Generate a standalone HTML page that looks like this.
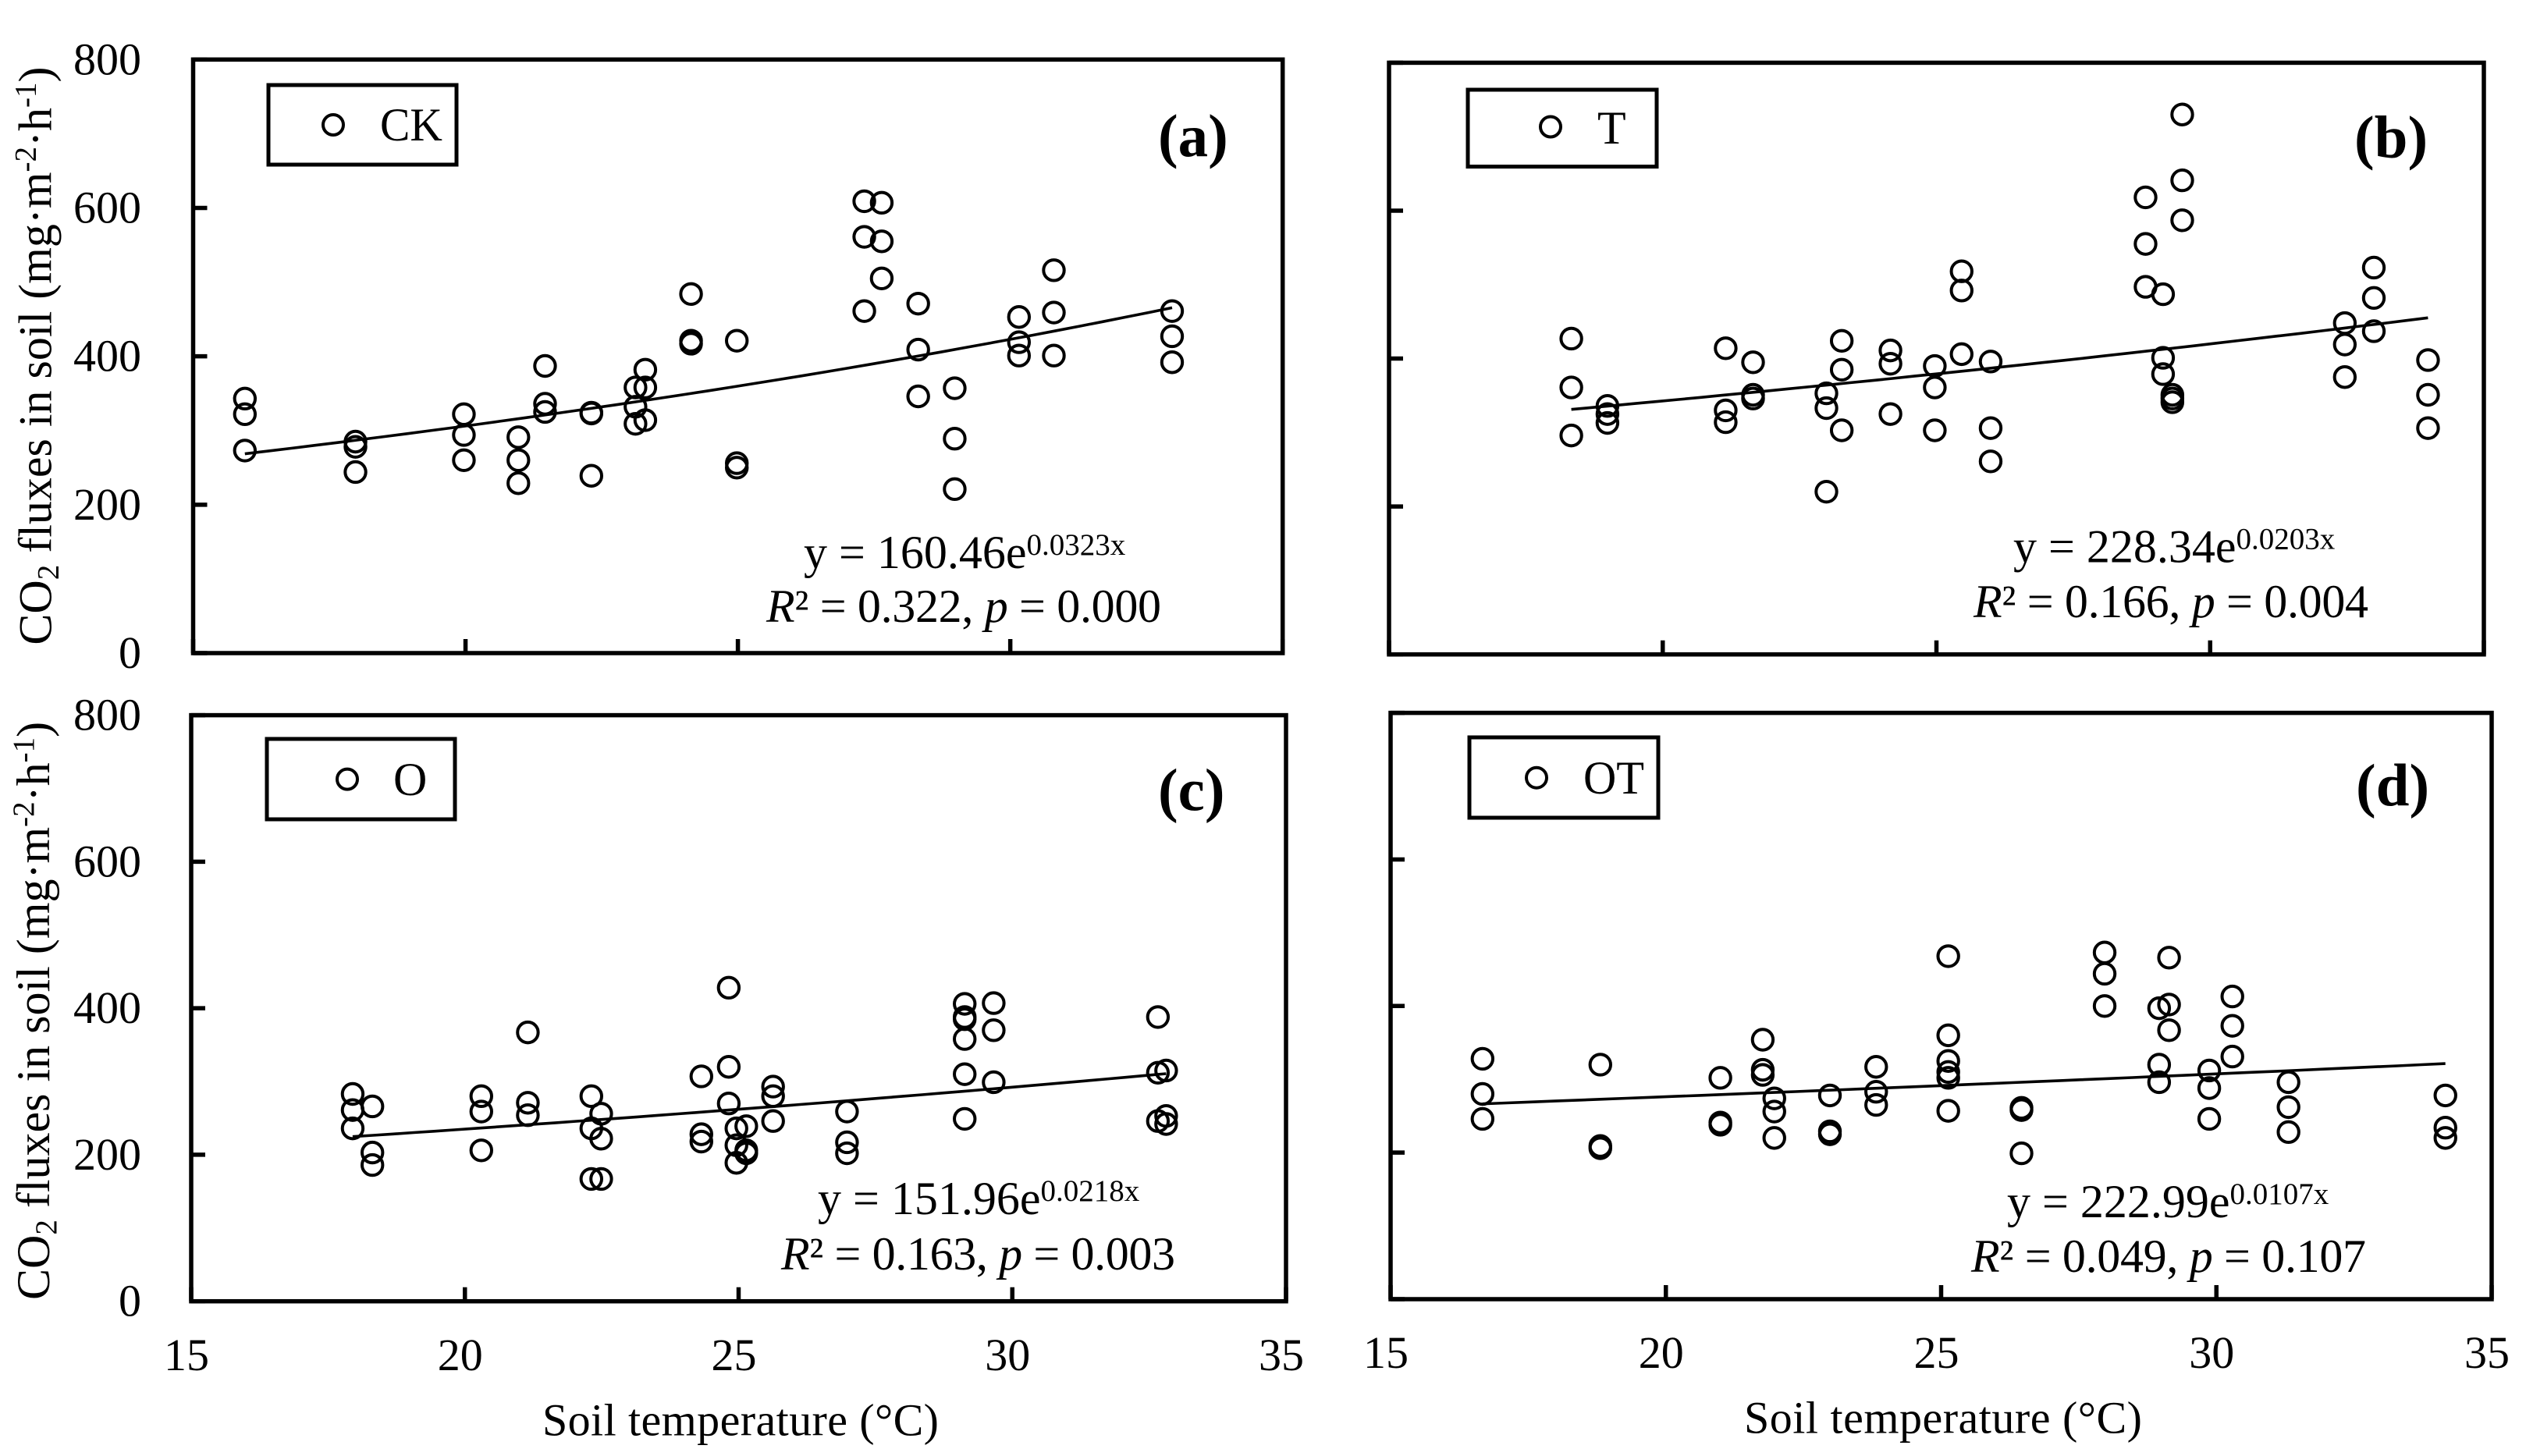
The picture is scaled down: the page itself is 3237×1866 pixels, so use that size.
<!DOCTYPE html>
<html lang="en">
<head>
<meta charset="utf-8">
<title>Soil CO2 flux versus soil temperature</title>
<style>
html,body{margin:0;padding:0;background:#fff;}
svg{display:block;}
text{font-family:"Liberation Serif",serif;fill:#000;}
.axis-title{font-size:60px;}
.eq{font-size:60px;}
.leg{font-size:60px;}
.tag{font-size:77px;font-weight:bold;}
.frame{fill:none;stroke:#000;stroke-width:5.5;}
.legbox{fill:none;stroke:#000;stroke-width:5;}
.pt{fill:none;stroke:#000;stroke-width:4;}
i,.it{font-style:italic;}
</style>
</head>
<body>
<svg id="figure" xmlns="http://www.w3.org/2000/svg" width="3237" height="1866" viewBox="0 0 3237 1866">
<rect x="0" y="0" width="3237" height="1866" fill="#fff"/>

<g id="panel-a">
  <rect class="frame" x="247.5" y="76.3" width="1396.2" height="760.7"/>
  <g>
    <rect class="legbox" x="344" y="109" width="241" height="102"/>
    <circle class="pt" cx="427" cy="160" r="13"/>
    <text class="leg" x="487" y="180" textLength="80" lengthAdjust="spacingAndGlyphs">CK</text>
  </g>
  <text class="tag" x="1484" y="200">(a)</text>
  <text class="eq" x="1030" y="728">y = 160.46e<tspan font-size="39" dy="-17">0.0323x</tspan></text>
  <text class="eq" x="982" y="797" textLength="506" lengthAdjust="spacing"><tspan class="it">R</tspan>² = 0.322, <tspan class="it">p</tspan> = 0.000</text>
  <text class="axis-title" transform="translate(65.7 826.6) rotate(-90)">CO<tspan font-size="39" dy="9">2</tspan><tspan dy="-9"> fluxes in soil (mg·m</tspan><tspan font-size="39" dy="-20">-2</tspan><tspan dy="20">·h</tspan><tspan font-size="39" dy="-20">-1</tspan><tspan dy="20">)</tspan></text>
</g>

<g id="panel-b">
  <rect class="frame" x="1780" y="80.4" width="1403" height="758.3"/>
  <g>
    <rect class="legbox" x="1881" y="115" width="242" height="98.5"/>
    <circle class="pt" cx="1987" cy="162.5" r="13"/>
    <text class="leg" x="2047" y="184">T</text>
  </g>
  <text class="tag" x="3017" y="202">(b)</text>
  <text class="eq" x="2580" y="720.4">y = 228.34e<tspan font-size="39" dy="-17">0.0203x</tspan></text>
  <text class="eq" x="2529" y="791" textLength="506" lengthAdjust="spacing"><tspan class="it">R</tspan>² = 0.166, <tspan class="it">p</tspan> = 0.004</text>
</g>

<g id="panel-c">
  <rect class="frame" x="245" y="916.6" width="1403" height="751.1"/>
  <g>
    <rect class="legbox" x="342" y="947" width="241" height="103"/>
    <circle class="pt" cx="445" cy="998.6" r="13"/>
    <text class="leg" x="504" y="1019">O</text>
  </g>
  <text class="tag" x="1484" y="1038.6">(c)</text>
  <text class="eq" x="1048" y="1556">y = 151.96e<tspan font-size="39" dy="-17">0.0218x</tspan></text>
  <text class="eq" x="1001" y="1627" textLength="505" lengthAdjust="spacing"><tspan class="it">R</tspan>² = 0.163, <tspan class="it">p</tspan> = 0.003</text>
  <text class="axis-title" transform="translate(63 1666) rotate(-90)">CO<tspan font-size="39" dy="9">2</tspan><tspan dy="-9"> fluxes in soil (mg·m</tspan><tspan font-size="39" dy="-20">-2</tspan><tspan dy="20">·h</tspan><tspan font-size="39" dy="-20">-1</tspan><tspan dy="20">)</tspan></text>
  <text class="axis-title" x="695" y="1839.6" style="font-size:58px" textLength="508" lengthAdjust="spacing">Soil temperature (°C)</text>
</g>

<g id="panel-d">
  <rect class="frame" x="1782" y="913.6" width="1411" height="751.4"/>
  <g>
    <rect class="legbox" x="1883" y="945" width="242" height="103"/>
    <circle class="pt" cx="1969" cy="996.7" r="13"/>
    <text class="leg" x="2029" y="1017" textLength="78" lengthAdjust="spacingAndGlyphs">OT</text>
  </g>
  <text class="tag" x="3019" y="1032.5">(d)</text>
  <text class="eq" x="2572" y="1560">y = 222.99e<tspan font-size="39" dy="-17">0.0107x</tspan></text>
  <text class="eq" x="2526" y="1630" textLength="506" lengthAdjust="spacing"><tspan class="it">R</tspan>² = 0.049, <tspan class="it">p</tspan> = 0.107</text>
  <text class="axis-title" x="2235" y="1836.5" style="font-size:58px" textLength="510" lengthAdjust="spacing">Soil temperature (°C)</text>
</g>
</svg>

<script>
// Axis tick labels
const xTickLabels = [15, 20, 25, 30, 35];
const yTickLabels = [0, 200, 400, 600, 800];

// Panel (a) CK
const tempCK = [15.95, 17.98, 19.97, 20.97, 21.46, 22.31, 23.12, 23.30, 24.14, 24.98, 27.32, 27.64, 28.31, 28.98, 30.16, 30.80, 32.97];
const fluxCK = [[343,322,273],[285,278,244],[322,294,260],[291,260,229],[387,336,325],[324,323,239],[358,332,309],[382,358,314],[484,421,417],[421,256,250],[609,561,461],[607,555,505],[471,409,346],[357,289,221],[453,419,401],[516,459,401],[461,427,392]];
const trendCK = [160.46, 0.0323];

// Panel (b) T
const tempT = [18.33, 18.99, 21.15, 21.65, 22.99, 23.27, 24.16, 24.97, 25.46, 25.99, 28.82, 29.14, 29.31, 29.49, 32.46, 32.99, 33.98];
const fluxT = [[427,361,296],[336,325,313],[414,330,314],[395,351,346],[353,333,220],[424,385,303],[411,393,325],[390,361,303],[518,492,406],[396,306,261],[618,555,497],[487,401,379],[351,346,341],[730,641,587],[448,419,375],[523,482,437],[398,351,306]];
const trendT = [228.34, 0.0203];

// Panel (c) O
const tempO = [17.95, 18.31, 20.30, 21.15, 22.31, 22.49, 24.32, 24.82, 24.96, 25.14, 25.63, 26.98, 29.13, 29.66, 32.66, 32.81];
const fluxO = [[283,261,236],[266,203,186],[280,259,206],[367,271,254],[280,236,167],[256,222,167],[307,228,218],[428,320,270],[236,213,189],[239,206,202],[293,280,246],[259,217,202],[406,388,385,358,310,249],[407,370,299],[388,312,246],[315,253,242]];
const trendO = [151.96, 0.0218];

// Panel (d) OT
const tempOT = [16.67, 18.81, 20.99, 21.76, 21.97, 22.98, 23.82, 25.13, 26.46, 27.97, 28.96, 29.14, 29.87, 30.29, 31.31, 34.16];
const fluxOT = [[328,280,246],[320,209,206],[302,241,238],[354,313,306],[274,256,220],[278,229,225],[317,283,265],[468,360,325,310,302,257],[261,258,199],[473,444,400],[397,320,296],[466,402,367],[312,288,246],[413,373,331],[296,262,228],[278,234,220]];
const trendOT = [222.99, 0.0107];

const NS = 'http://www.w3.org/2000/svg';

function drawPanel(groupId, box, temps, fluxes, trend, showXLabels, showYLabels, xLabelBaseline) {
  const group = document.getElementById(groupId);
  const xScale = function (v) { return box.left + (v - 15) / 20 * (box.right - box.left); };
  const yScale = function (v) { return box.bottom - v / 800 * (box.bottom - box.top); };

  xTickLabels.forEach(function (t) {
    const tick = document.createElementNS(NS, 'line');
    
    
    tick.setAttribute('x1', xScale(t));
    tick.setAttribute('x2', xScale(t));
    tick.setAttribute('y1', box.bottom);
    tick.setAttribute('y2', box.bottom - 18);
    tick.setAttribute('stroke', '#000');
    tick.setAttribute('stroke-width', '5.5');
    group.appendChild(tick);
    if (showXLabels) {
      const label = document.createElementNS(NS, 'text');
      
      
      label.setAttribute('x', xScale(t) - 6);
      label.setAttribute('y', xLabelBaseline);
      label.setAttribute('text-anchor', 'middle');
      label.setAttribute('font-size', '58');
      label.textContent = t;
      group.appendChild(label);
    }
  });

  yTickLabels.forEach(function (t) {
    const tick = document.createElementNS(NS, 'line');
    
    
    tick.setAttribute('x1', box.left);
    tick.setAttribute('x2', box.left + 18);
    tick.setAttribute('y1', yScale(t));
    tick.setAttribute('y2', yScale(t));
    tick.setAttribute('stroke', '#000');
    tick.setAttribute('stroke-width', '5.5');
    group.appendChild(tick);
    if (showYLabels) {
      const label = document.createElementNS(NS, 'text');
      
      
      label.setAttribute('x', 181);
      label.setAttribute('y', yScale(t) + 19);
      label.setAttribute('text-anchor', 'end');
      label.setAttribute('font-size', '58');
      label.textContent = t;
      group.appendChild(label);
    }
  });

  const minT = Math.min.apply(null, temps);
  const maxT = Math.max.apply(null, temps);
  const pts = [];
  for (let i = 0; i <= 40; i++) {
    const t = minT + (maxT - minT) * i / 40;
    pts.push(xScale(t).toFixed(1) + ',' + yScale(trend[0] * Math.exp(trend[1] * t)).toFixed(1));
  }
  const fit = document.createElementNS(NS, 'polyline');
  
  
  fit.setAttribute('points', pts.join(' '));
  fit.setAttribute('fill', 'none');
  fit.setAttribute('stroke', '#000');
  fit.setAttribute('stroke-width', '3.6');
  group.appendChild(fit);

  temps.forEach(function (t, i) {
    fluxes[i].forEach(function (f) {
      const c = document.createElementNS(NS, 'circle');
      
      
      c.setAttribute('class', 'pt');
      c.setAttribute('cx', xScale(t));
      c.setAttribute('cy', yScale(f));
      c.setAttribute('r', '13.2');
      group.appendChild(c);
    });
  });
}

drawPanel('panel-a', {left: 247.5, right: 1643.7, top: 76.3, bottom: 837}, tempCK, fluxCK, trendCK, false, true, 0);
drawPanel('panel-b', {left: 1780, right: 3183, top: 80.4, bottom: 838.7}, tempT, fluxT, trendT, false, false, 0);
drawPanel('panel-c', {left: 245, right: 1648, top: 916.6, bottom: 1667.7}, tempO, fluxO, trendO, true, true, 1756);
drawPanel('panel-d', {left: 1782, right: 3193, top: 913.6, bottom: 1665}, tempOT, fluxOT, trendOT, true, false, 1753);
</script>
</body>
</html>
